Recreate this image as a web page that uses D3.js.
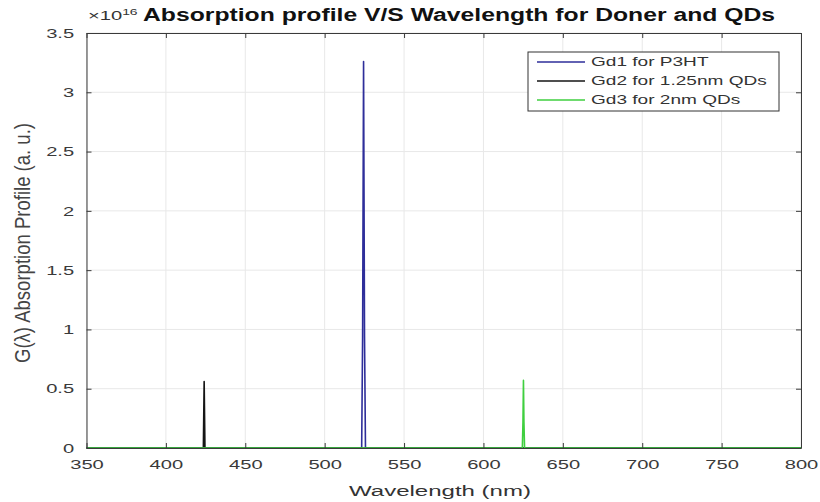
<!DOCTYPE html>
<html>
<head>
<meta charset="utf-8">
<script src="https://cdn.jsdelivr.net/npm/d3@7"></script>
<style>
  html, body { margin: 0; padding: 0; background: #fff; }
  svg { display: block; font-family: "Liberation Sans", Arial, sans-serif; }
</style>
</head>
<body>
<svg id="chart" width="820" height="502"></svg>
<script>
// Absorption spectra, values in units of 1e16 (sparse samples; zero elsewhere)
const wlGd1 = [350, 523.3, 523.9, 524.5, 525.1, 525.7, 800];
const gGd1  = [0,   0,     0.94,  3.26,  0.94,  0,     0];
const wlGd2 = [350, 423.6, 424.1, 424.6, 800];
const gGd2  = [0,   0,     0.56,  0,     0];
const wlGd3 = [350, 624.5, 624.9, 625.2, 625.5, 625.9, 800];
const gGd3  = [0,   0,     0.22,  0.57,  0.22,  0,     0];

const seriesNames = ["Gd1 for P3HT", "Gd2 for 1.25nm QDs", "Gd3 for 2nm QDs"];
const seriesColors = ["#2e2e9a", "#151515", "#3fcf3f"];

const xTicks = [350, 400, 450, 500, 550, 600, 650, 700, 750, 800];
const yTicks = [0, 0.5, 1, 1.5, 2, 2.5, 3, 3.5];
const yTickLabels = ["0", "0.5", "1", "1.5", "2", "2.5", "3", "3.5"];

const titleText = "Absorption profile V/S Wavelength for Doner and QDs";
const xLabelText = "Wavelength (nm)";
const yLabelText = "G(\u03bb) Absorption Profile (a. u.)";

const series = [
  { name: seriesNames[0], color: seriesColors[0], pts: wlGd1.map((w, i) => [w, gGd1[i]]) },
  { name: seriesNames[1], color: seriesColors[1], pts: wlGd2.map((w, i) => [w, gGd2[i]]) },
  { name: seriesNames[2], color: seriesColors[2], pts: wlGd3.map((w, i) => [w, gGd3[i]]) }
];

const svg = d3.select("#chart");
const plot = { left: 86.5, right: 801, top: 33, bottom: 448 };
const SX = 1.55; // horizontal glyph stretch

const x = d3.scaleLinear().domain([350, 800]).range([plot.left, plot.right]);
const y = d3.scaleLinear().domain([0, 3.5]).range([plot.bottom, plot.top]);

function stretch(sel, sx) {
  sel.each(function () {
    const t = d3.select(this);
    const tx = +t.attr("x"), ty = +t.attr("y");
    t.attr("transform", `translate(${tx},${ty}) scale(${sx},1) translate(${-tx},${-ty})`);
  });
}

// grid
const grid = svg.append("g");
grid.selectAll("line.gx").data(xTicks).join("line")
  .attr("x1", d => x(d)).attr("x2", d => x(d))
  .attr("y1", plot.top).attr("y2", plot.bottom)
  .attr("stroke", "#e8e8e8").attr("stroke-width", 1);
grid.selectAll("line.gy").data(yTicks).join("line")
  .attr("y1", d => y(d)).attr("y2", d => y(d))
  .attr("x1", plot.left).attr("x2", plot.right)
  .attr("stroke", "#e8e8e8").attr("stroke-width", 1);

// data lines
const line = d3.line().x(d => x(d[0])).y(d => y(d[1]));
svg.append("g").selectAll("path").data(series).join("path")
  .attr("d", d => line(d.pts))
  .attr("fill", "none")
  .attr("stroke", d => d.color)
  .attr("stroke-width", 1.6)
  .attr("stroke-linejoin", "round");

// axes (box with inward ticks)
const axisColor = "#3a3a3a";
const axB = svg.append("g").attr("transform", `translate(0,${plot.bottom})`)
  .call(d3.axisBottom(x).tickValues(xTicks).tickSizeInner(-5).tickSizeOuter(0).tickPadding(12));
const axT = svg.append("g").attr("transform", `translate(0,${plot.top})`)
  .call(d3.axisTop(x).tickValues(xTicks).tickSizeInner(-5).tickSizeOuter(0).tickFormat(""));
const axL = svg.append("g").attr("transform", `translate(${plot.left},0)`)
  .call(d3.axisLeft(y).tickValues(yTicks).tickSizeInner(-5).tickSizeOuter(0).tickPadding(12)
    .tickFormat((d, i) => yTickLabels[i]));
const axR = svg.append("g").attr("transform", `translate(${plot.right},0)`)
  .call(d3.axisRight(y).tickValues(yTicks).tickSizeInner(-5).tickSizeOuter(0).tickFormat(""));
[axB, axT, axL, axR].forEach(a => {
  a.select(".domain").attr("stroke", axisColor);
  a.selectAll(".tick line").attr("stroke", axisColor);
  a.selectAll("text").attr("fill", "#3a3a3a").style("font-size", "13px")
    .style("font-family", "'Liberation Sans', Arial, sans-serif");
});
axB.selectAll(".tick text").attr("dy", "0.71em").attr("y", 12).attr("x", 0)
  .attr("transform", `scale(${SX},1)`);
axL.selectAll(".tick text").attr("x", -8).attr("transform", `scale(${SX},1)`);

// exponent label
const expo = svg.append("text").attr("x", 88).attr("y", 20)
  .attr("fill", "#333").style("font-size", "13px");
expo.append("tspan").text("\u00d710");
expo.append("tspan").attr("dy", -5).style("font-size", "9px").text("16");
stretch(expo, SX);

// title
const title = svg.append("text").attr("x", 459).attr("y", 21)
  .attr("text-anchor", "middle").attr("font-weight", "bold")
  .attr("fill", "#111").style("font-size", "17.5px").text(titleText);
title.attr("textLength", 632).attr("lengthAdjust", "spacingAndGlyphs");

// x label
const xl = svg.append("text").attr("x", 440).attr("y", 496)
  .attr("text-anchor", "middle").attr("fill", "#333")
  .style("font-size", "15.5px").text(xLabelText);
stretch(xl, SX);

// y label (rotated; glyph height widened)
svg.append("text")
  .attr("transform", `translate(30,243) scale(${SX},1) rotate(-90)`)
  .attr("text-anchor", "middle").attr("fill", "#444")
  .style("font-size", "14px")
  .attr("textLength", 240).attr("lengthAdjust", "spacingAndGlyphs")
  .text(yLabelText);

// legend
const lg = svg.append("g");
lg.append("rect").attr("x", 528).attr("y", 52).attr("width", 251).attr("height", 59)
  .attr("fill", "#fff").attr("stroke", "#333").attr("stroke-width", 1);
const rows = lg.selectAll("g.row").data(series).join("g").attr("class", "row");
rows.append("line")
  .attr("x1", 537).attr("x2", 585)
  .attr("y1", (d, i) => 62 + i * 19).attr("y2", (d, i) => 62 + i * 19)
  .attr("stroke", d => d.color).attr("stroke-width", 1.4);
const lt = rows.append("text")
  .attr("x", 591).attr("y", (d, i) => 62 + i * 19 + 4.5)
  .attr("fill", "#333").style("font-size", "12.3px")
  .text(d => d.name);
stretch(lt, SX);
</script>
</body>
</html>
